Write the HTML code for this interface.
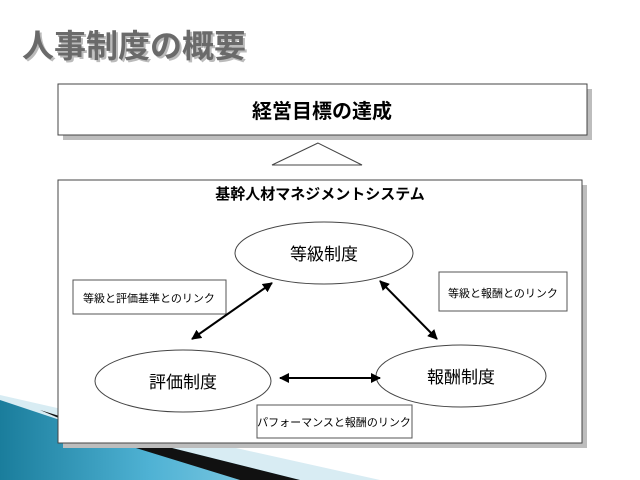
<!DOCTYPE html>
<html><head><meta charset="utf-8"><style>
body{margin:0;width:640px;height:480px;overflow:hidden;background:#fff;font-family:"Liberation Sans","Noto Sans CJK JP",sans-serif;}
</style></head><body>
<svg width="640" height="480" viewBox="0 0 640 480" xmlns="http://www.w3.org/2000/svg" style="display:block">
<defs>
<linearGradient id="bl" x1="0" y1="0" x2="1" y2="0">
<stop offset="0" stop-color="#1a7d9c"/><stop offset="0.5" stop-color="#4fb2d4"/><stop offset="1" stop-color="#8fd0e6"/>
</linearGradient>
<marker id="ah" viewBox="0 0 10 10" refX="9" refY="5" markerWidth="5" markerHeight="5" orient="auto-start-reverse"><path d="M0,0L10,5L0,10z" fill="#000"/></marker>
</defs>
<polygon points="0,395 110,420 380,480 0,480" fill="#d8ecf3"/>
<polygon points="0,400 60,420 300,480 0,480" fill="url(#bl)"/>
<polygon points="40,410 120,435 300,480 240,480 110,440" fill="#111"/>
<text x="22" y="57" font-size="32" font-weight="bold" fill="#bbb" transform="translate(2,2)">人事制度の概要</text>
<text x="22" y="57" font-size="32" font-weight="bold" fill="#6a6a6a">人事制度の概要</text>
<rect x="63" y="89" width="529" height="51" fill="#bdbdbd"/>
<rect x="58" y="84" width="529" height="51" fill="#fff" stroke="#444"/>
<text x="322" y="118" font-size="20" font-weight="bold" text-anchor="middle">経営目標の達成</text>
<polygon points="318,143 272,165 362,165" fill="#fff" stroke="#444"/>
<rect x="63" y="185" width="524" height="263" fill="#bdbdbd"/>
<rect x="58" y="180" width="524" height="263" fill="#fff" stroke="#444"/>
<text x="320" y="199" font-size="15" font-weight="bold" text-anchor="middle">基幹人材マネジメントシステム</text>
<ellipse cx="324" cy="253" rx="89" ry="31" fill="#fff" stroke="#444"/>
<text x="324" y="260" font-size="17" text-anchor="middle">等級制度</text>
<ellipse cx="183" cy="381" rx="88" ry="31" fill="#fff" stroke="#444"/>
<text x="183" y="388" font-size="17" text-anchor="middle">評価制度</text>
<ellipse cx="461" cy="376" rx="85" ry="31" fill="#fff" stroke="#444"/>
<text x="461" y="383" font-size="17" text-anchor="middle">報酬制度</text>
<rect x="73" y="280" width="153" height="34" fill="#fff" stroke="#555"/>
<text x="149" y="302" font-size="11" text-anchor="middle">等級と評価基準とのリンク</text>
<rect x="439" y="272" width="128" height="39" fill="#fff" stroke="#555"/>
<text x="503" y="297" font-size="11" text-anchor="middle">等級と報酬とのリンク</text>
<rect x="257" y="405" width="155" height="33" fill="#fff" stroke="#555"/>
<text x="334" y="426" font-size="11" text-anchor="middle">パフォーマンスと報酬のリンク</text>
<line x1="192" y1="339" x2="272" y2="283" stroke="#000" stroke-width="2" marker-start="url(#ah)" marker-end="url(#ah)"/>
<line x1="380" y1="281" x2="437" y2="339" stroke="#000" stroke-width="2" marker-start="url(#ah)" marker-end="url(#ah)"/>
<line x1="280" y1="378" x2="380" y2="378" stroke="#000" stroke-width="2" marker-start="url(#ah)" marker-end="url(#ah)"/>
</svg>
</body></html>
